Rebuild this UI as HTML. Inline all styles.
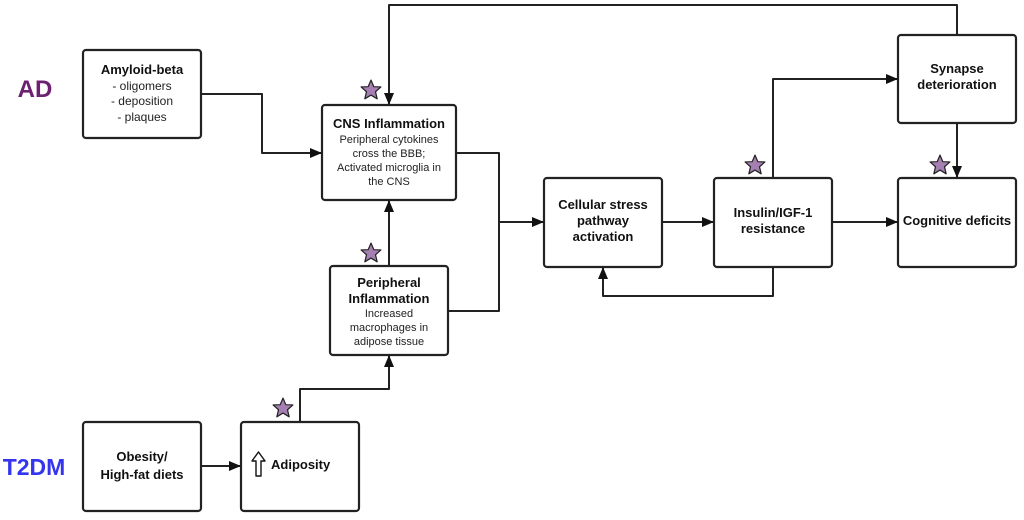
<!DOCTYPE html>
<html><head><meta charset="utf-8"><style>
html,body{margin:0;padding:0;background:#fff;width:1024px;height:520px;overflow:hidden}
svg text{font-family:"Liberation Sans",Arial,sans-serif;fill:#111}
.b{font-weight:bold;font-size:13px}
.n{font-size:12px;fill:#222}
</style></head><body>
<svg width="1024" height="520" viewBox="0 0 1024 520" xmlns="http://www.w3.org/2000/svg">
<defs>
<marker id="a" markerWidth="12" markerHeight="10" refX="11" refY="5" orient="auto" markerUnits="userSpaceOnUse">
<path d="M0,0 L12,5 L0,10 z" fill="#111"/></marker>
<symbol id="s" viewBox="-10 -10 20 20"><polygon points="0,-9 2.6,-3 9,-2.8 4.1,1.6 5.6,8 0,4.6 -5.6,8 -4.1,1.6 -9,-2.8 -2.6,-3" fill="#a57fb2" stroke="#222" stroke-width="1.1" stroke-linejoin="round"/></symbol>
</defs>
<g fill="none" stroke="#222" stroke-width="2.2">
<rect x="83" y="50" width="118" height="88" rx="3" fill="#fff"/>
<rect x="322" y="105" width="134" height="95" rx="3" fill="#fff"/>
<rect x="330" y="266" width="118" height="89" rx="3" fill="#fff"/>
<rect x="83" y="422" width="118" height="89" rx="3" fill="#fff"/>
<rect x="241" y="422" width="118" height="89" rx="3" fill="#fff"/>
<rect x="544" y="178" width="118" height="89" rx="3" fill="#fff"/>
<rect x="714" y="178" width="118" height="89" rx="3" fill="#fff"/>
<rect x="898" y="35" width="118" height="88" rx="3" fill="#fff"/>
<rect x="898" y="178" width="118" height="89" rx="3" fill="#fff"/>
</g>
<g fill="none" stroke="#222" stroke-width="2" stroke-linejoin="round">
<path d="M957,35 V5 H389 V104" marker-end="url(#a)"/>
<path d="M201,94 H262 V153 H321" marker-end="url(#a)"/>
<path d="M456,153 H499 V311 H448"/>
<path d="M499,222 H543" marker-end="url(#a)"/>
<path d="M389,266 V201" marker-end="url(#a)"/>
<path d="M300,422 V389 H389 V356" marker-end="url(#a)"/>
<path d="M201,466 H240" marker-end="url(#a)"/>
<path d="M662,222 H713" marker-end="url(#a)"/>
<path d="M832,222 H897" marker-end="url(#a)"/>
<path d="M773,178 V79 H897" marker-end="url(#a)"/>
<path d="M957,123 V177" marker-end="url(#a)"/>
<path d="M773,267 V296 H603 V268" marker-end="url(#a)"/>
</g>
<use href="#s" x="360" y="79" width="22" height="22"/>
<use href="#s" x="360" y="242" width="22" height="22"/>
<use href="#s" x="744" y="154" width="22" height="22"/>
<use href="#s" x="929" y="154" width="22" height="22"/>
<use href="#s" x="272" y="397" width="22" height="22"/>
<text x="35" y="97" text-anchor="middle" style="font-weight:bold;font-size:24px;fill:#6b2070">AD</text>
<text x="34" y="475" text-anchor="middle" style="font-weight:bold;font-size:23px;fill:#3535f0">T2DM</text>
<g text-anchor="middle">
<text x="142" y="74" class="b">Amyloid-beta</text>
<text x="142" y="90" class="n">- oligomers</text>
<text x="142" y="105" class="n">- deposition</text>
<text x="142" y="121" class="n">- plaques</text>
<text x="389" y="128" class="b">CNS Inflammation</text>
<text x="389" y="143" class="n" style="font-size:11px">Peripheral cytokines</text>
<text x="389" y="157" class="n" style="font-size:11px">cross the BBB;</text>
<text x="389" y="171" class="n" style="font-size:11px">Activated microglia in</text>
<text x="389" y="185" class="n" style="font-size:11px">the CNS</text>
<text x="389" y="287" class="b">Peripheral</text>
<text x="389" y="303" class="b">Inflammation</text>
<text x="389" y="317" class="n" style="font-size:11px">Increased</text>
<text x="389" y="331" class="n" style="font-size:11px">macrophages in</text>
<text x="389" y="345" class="n" style="font-size:11px">adipose tissue</text>
<text x="142" y="461" class="b">Obesity/</text>
<text x="142" y="479" class="b">High-fat diets</text>
<text x="603" y="209" class="b">Cellular stress</text>
<text x="603" y="225" class="b">pathway</text>
<text x="603" y="241" class="b">activation</text>
<text x="773" y="217" class="b">Insulin/IGF-1</text>
<text x="773" y="233" class="b">resistance</text>
<text x="957" y="73" class="b">Synapse</text>
<text x="957" y="89" class="b">deterioration</text>
<text x="957" y="225" class="b">Cognitive deficits</text>
</g>
<text x="271" y="469" class="b">Adiposity</text>
<path d="M252,461 L258.5,452 L265,461 L261,461 L261,476 L256,476 L256,461 Z" fill="#fff" stroke="#111" stroke-width="1.4" stroke-linejoin="round"/>
</svg>
</body></html>
